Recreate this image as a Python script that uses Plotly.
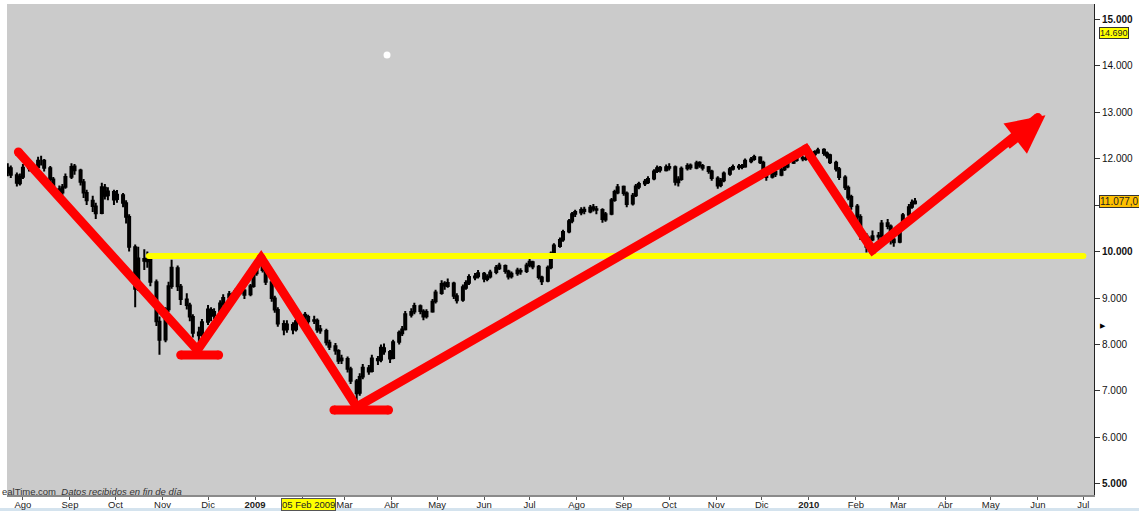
import pandas as pd
import plotly.graph_objects as go

# ---------------- data (2-day bars) ----------------
bar_open = [11700,11790,11640,11470,11610,11790,11840,11810,11960,11950,
11790,11550,11340,11270,11390,11610,11830,11740,11490,11260,
11090,10970,10830,11370,11210,11280,11130,11210,11040,10740,
10090,9210,9840,9790,9840,9340,8490,8110,8760,9260,
9640,9240,8970,8840,8590,8260,8210,8490,8740,8630,
8710,8870,9010,9070,9030,9140,9160,9080,9260,9530,
9710,9590,9340,8990,8740,8440,8330,8420,8330,8510,
8640,8590,8510,8510,8330,8290,8040,7960,7860,7660,
7690,7470,7210,6960,7310,7490,7430,7690,7670,7920,
7840,7710,8060,8240,8330,8640,8710,8820,8710,8610,
8710,8930,9110,9310,9260,9310,9040,8960,9220,9330,
9440,9470,9520,9410,9460,9560,9640,9690,9570,9470,
9530,9580,9580,9710,9770,9670,9440,9370,9660,9960,
10120,10260,10430,10660,10810,10840,10900,10860,10950,10910,
10890,10690,10810,11110,11270,11390,11250,11030,11210,11390,
11460,11490,11570,11730,11800,11750,11800,11810,11490,11560,
11790,11850,11800,11910,11840,11810,11720,11570,11430,11530,
11670,11780,11810,11840,11830,11940,11990,12020,11910,11710,
11610,11710,11650,11770,11830,11910,11970,12010,11990,12010,
12090,12130,12190,12110,12070,11910,11770,11590,11370,11170,
10970,10740,10340,10110,10260,10340,10330,10610,10540,10260,
10210,10510,10790,10960,11040]
bar_high = [11900,11850,11700,11680,11880,11900,11920,12040,12060,11990,
11840,11600,11420,11450,11680,11900,11880,11780,11560,11330,
11200,11050,11480,11450,11380,11330,11320,11260,11100,10800,
10150,10100,10050,10000,9900,9400,8600,8800,9350,9820,
9700,9300,9100,8900,8650,8380,8550,8850,8800,8780,
8950,9080,9150,9120,9200,9250,9200,9300,9580,9760,
9850,9640,9400,9050,8800,8520,8520,8480,8580,8720,
8700,8640,8620,8560,8420,8340,8100,8030,7900,7780,
7740,7520,7260,7380,7580,7560,7780,7750,8000,8020,
7880,8100,8300,8400,8720,8780,8900,8860,8760,8760,
8980,9180,9380,9360,9420,9350,9100,9290,9380,9510,
9540,9600,9560,9510,9610,9710,9760,9720,9610,9570,
9650,9640,9760,9840,9800,9710,9480,9700,10000,10180,
10300,10470,10700,10850,10900,10950,10960,11000,11020,10980,
10930,10850,11150,11330,11450,11420,11290,11260,11450,11500,
11560,11620,11770,11850,11840,11870,11900,11850,11620,11830,
11900,11890,11950,11940,11880,11840,11760,11620,11580,11720,
11820,11870,11880,11880,12000,12030,12080,12050,11950,11760,
11760,11750,11810,11870,11960,12000,12070,12060,12060,12120,
12180,12230,12220,12150,12100,11950,11820,11640,11420,11220,
11020,10800,10400,10320,10450,10420,10680,10700,10580,10350,
10560,10830,11020,11120,11150]
bar_low = [11620,11580,11400,11420,11560,11720,11700,11780,11850,11720,
11480,11280,11150,11200,11350,11560,11650,11420,11150,11000,
10850,10700,10800,11120,11100,11000,11050,10950,10600,10000,
8800,9150,9600,9650,9250,8400,7780,8050,8700,9200,
9150,8850,8750,8500,8150,8000,8150,8420,8500,8550,
8650,8800,8950,8930,8980,9080,8980,9040,9220,9480,
9550,9280,8920,8680,8380,8200,8250,8220,8280,8450,
8520,8420,8440,8250,8230,7980,7880,7780,7580,7580,
7400,7150,6780,6900,7250,7350,7400,7560,7620,7780,
7600,7680,8000,8180,8300,8580,8650,8650,8520,8560,
8680,8880,9070,9180,9220,8980,8880,8920,9180,9280,
9380,9420,9340,9360,9420,9510,9600,9520,9400,9420,
9480,9500,9540,9660,9620,9400,9280,9340,9620,9920,
10080,10210,10390,10610,10740,10780,10800,10820,10860,10800,
10620,10640,10780,11070,11230,11200,10950,10990,11170,11340,
11410,11450,11530,11690,11700,11720,11740,11420,11400,11520,
11740,11760,11770,11800,11740,11670,11520,11350,11380,11490,
11630,11740,11760,11770,11800,11900,11950,11880,11650,11520,
11570,11600,11620,11730,11790,11880,11930,11940,11950,11970,
12040,12100,12060,12000,11880,11720,11540,11320,11100,10900,
10650,10250,9980,10000,10220,10250,10290,10480,10150,10100,
10180,10480,10750,10920,11010]
bar_close = [11800,11650,11480,11600,11800,11830,11820,11950,11960,11800,
11560,11350,11260,11380,11600,11820,11750,11500,11270,11100,
10980,10820,11380,11200,11290,11120,11220,11050,10750,10100,
9200,9850,9800,9850,9350,8500,8100,8750,9250,9650,
9250,8980,8850,8600,8250,8200,8480,8750,8620,8700,
8880,9000,9080,9020,9150,9170,9070,9250,9520,9700,
9600,9350,9000,8750,8450,8320,8430,8320,8500,8650,
8600,8500,8520,8320,8300,8050,7950,7870,7650,7700,
7480,7220,6950,7300,7500,7420,7700,7660,7930,7850,
7700,8050,8250,8320,8650,8700,8830,8720,8600,8700,
8920,9120,9300,9270,9320,9050,8950,9230,9320,9450,
9460,9530,9420,9450,9550,9650,9700,9580,9460,9520,
9590,9570,9700,9780,9680,9450,9360,9650,9950,10130,
10250,10420,10650,10800,10850,10890,10870,10940,10920,10900,
10700,10800,11100,11280,11380,11260,11020,11200,11400,11450,
11500,11560,11720,11790,11760,11810,11820,11500,11550,11780,
11840,11810,11900,11850,11800,11730,11580,11420,11520,11680,
11770,11820,11830,11820,11950,11980,12030,11920,11720,11600,
11700,11660,11760,11820,11920,11960,12020,12000,12000,12080,
12140,12180,12120,12060,11920,11780,11600,11380,11160,10980,
10750,10350,10100,10250,10330,10320,10600,10550,10270,10200,
10500,10780,10950,11050,11077]
bar_start = "2008-07-22"

# drawn trend annotation (hand-drawn lines on the chart)
trend_dates = ["2008-07-29", "2008-11-24", "2009-01-05", "2009-03-09", "2009-12-30", "2010-02-12", "2010-06-01"]
trend_values = [12140, 7880, 9860, 6656, 12204, 10032, 12880]
base1_dates = ["2008-11-13", "2008-12-08"]
base1_values = [7774, 7774]
base2_dates = ["2009-02-22", "2009-03-30"]
base2_values = [6591, 6591]
support_dates = ["2008-10-23", "2010-07-01"]
support_values = [9903, 9903]
arrow_tip = ("2010-06-06", 12930)

month_ticks = pd.date_range("2008-08-01", "2010-07-01", freq="MS")
month_text = ["Ago","Sep","Oct","Nov","Dic","<b>2009</b>","","Mar","Abr","May","Jun","Jul",
              "Ago","Sep","Oct","Nov","Dic","<b>2010</b>","Feb","Mar","Abr","May","Jun","Jul"]
y_ticks = [5000,6000,7000,8000,9000,10000,11000,12000,13000,14000,15000]
y_text = ["<b>5.000</b>","6.000","7.000","8.000","9.000","<b>10.000</b>","","12.000","13.000","14.000","<b>15.000</b>"]

dates = pd.date_range(bar_start, periods=len(bar_close), freq="2B")

fig = go.Figure()
fig.add_trace(go.Candlestick(
    x=dates, open=bar_open, high=bar_high, low=bar_low, close=bar_close,
    increasing=dict(line=dict(color="black", width=2), fillcolor="#2f9e44"),
    decreasing=dict(line=dict(color="black", width=2), fillcolor="#b5545c"),
    whiskerwidth=0, showlegend=False, hoverinfo="skip"))

fig.add_trace(go.Scatter(x=support_dates, y=support_values, mode="lines+markers",
    line=dict(color="#ffff00", width=6), marker=dict(color="#ffff00", size=6),
    showlegend=False, hoverinfo="skip"))

red = "#ff0000"
for xs, ys in [(trend_dates, trend_values), (base1_dates, base1_values), (base2_dates, base2_values)]:
    fig.add_trace(go.Scatter(x=xs, y=ys, mode="lines+markers",
        line=dict(color=red, width=9), marker=dict(color=red, size=9),
        showlegend=False, hoverinfo="skip"))

fig.add_annotation(x=arrow_tip[0], y=arrow_tip[1], ax=-40, ay=31,
    xref="x", yref="y", axref="pixel", ayref="pixel", text="", showarrow=True,
    arrowhead=2, arrowsize=0.85, arrowwidth=9, arrowcolor=red, standoff=0)

# small white spot
fig.add_trace(go.Scatter(x=["2009-03-29"], y=[14226], mode="markers",
    marker=dict(color="white", size=7, line=dict(width=0)), showlegend=False, hoverinfo="skip"))

font = "Liberation Sans, Arial, sans-serif"
fig.update_layout(
    width=1139, height=511,
    margin=dict(l=7, r=45, t=4, b=16, autoexpand=False),
    paper_bgcolor="white", plot_bgcolor="#cbcbcb",
    boxgap=0.05,
    font=dict(family=font, size=10, color="#222"),
    xaxis=dict(range=["2008-07-21 12:00", "2010-07-08"], type="date", automargin=False,
        tickvals=month_ticks, ticktext=month_text, ticks="outside", ticklen=3,
        ticklabelstandoff=-3,
        tickcolor="#555", showgrid=False, zeroline=False, showline=True,
        linecolor="#8a8a8a", linewidth=2, rangeslider=dict(visible=False),
        tickfont=dict(size=9.5, color="#222")),
    yaxis=dict(side="right", range=[4763, 15323], tickvals=y_ticks, ticktext=y_text, automargin=False,
        ticks="outside", ticklen=5, tickcolor="#333", showgrid=False, zeroline=False,
        showline=True, linecolor="#222", linewidth=1, tickfont=dict(size=10, color="#111")),
)

fig.add_annotation(xref="paper", yref="y", x=1.0045, y=14690, text="14.690", showarrow=False,
    xanchor="left", yanchor="middle", bgcolor="#ffff00", bordercolor="#333", borderwidth=1,
    borderpad=0, font=dict(size=9, color="#222"))
fig.add_annotation(xref="paper", yref="y", x=1.0045, y=11077, text="11.077,0", showarrow=False,
    xanchor="left", yanchor="middle", bgcolor="#ffc000", bordercolor="#333", borderwidth=1,
    borderpad=0, font=dict(size=10, color="#222"))
fig.add_annotation(xref="paper", yref="y", x=1.0035, y=8419, text="▶", showarrow=False,
    xanchor="left", yanchor="middle", font=dict(size=7, color="black"))
fig.add_annotation(xref="x", yref="paper", x="2009-02-05", y=-0.0185, text="05 Feb 2009",
    showarrow=False, xanchor="center", yanchor="middle", bgcolor="#ffff00",
    bordercolor="#555", borderwidth=1, borderpad=0, font=dict(size=9.5, color="#222"))
fig.add_annotation(xref="paper", yref="paper", x=-0.0065, y=0.007,
    text="ealTime.com  <i>Datos recibidos en fin de día</i>", showarrow=False,
    xanchor="left", yanchor="middle", font=dict(size=9.5, color="#333"))
fig.add_shape(type="rect", xref="paper", yref="paper", x0=-0.01, x1=1.05, y0=-0.0265, y1=-0.04,
    fillcolor="#d4e3ee", line=dict(width=0), layer="below")

fig.write_html("out.html", config={"displayModeBar": False},
    post_script="document.body.style.margin='0';document.body.style.overflow='hidden';")
